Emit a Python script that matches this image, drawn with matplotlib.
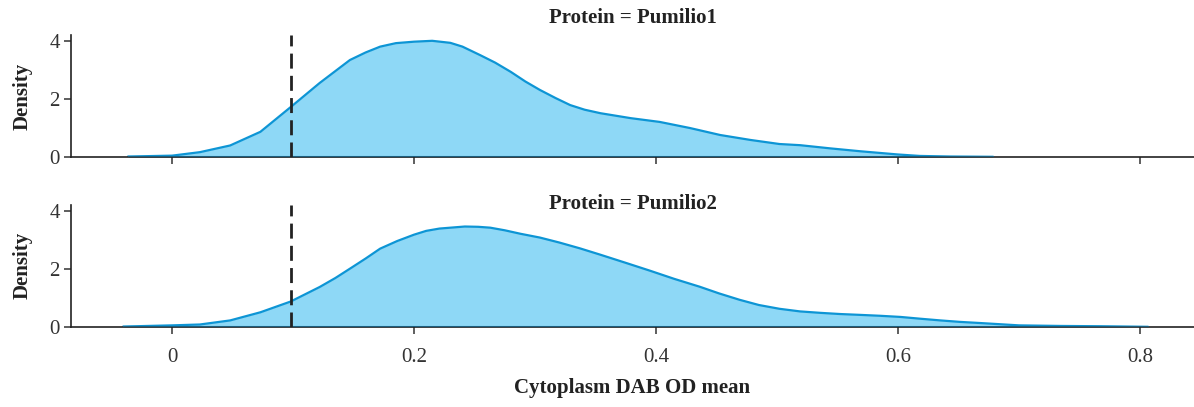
import matplotlib
matplotlib.use("Agg")
import matplotlib.pyplot as plt

plt.rcParams['font.family'] = ['Liberation Serif', 'DejaVu Serif']

# Density curves (x = Cytoplasm DAB OD mean, y = density)
pum1_x = [-0.036, 0.0, 0.023, 0.048, 0.073, 0.098, 0.122, 0.147, 0.16, 0.172,
          0.185, 0.2, 0.215, 0.23, 0.24, 0.255, 0.267, 0.28, 0.292, 0.304,
          0.317, 0.329, 0.341, 0.354, 0.379, 0.403, 0.428, 0.453, 0.478, 0.502,
          0.519, 0.544, 0.569, 0.6, 0.618, 0.643, 0.678]
pum1_y = [0.02, 0.05, 0.17, 0.4, 0.87, 1.72, 2.55, 3.34, 3.6, 3.8,
          3.92, 3.97, 4.0, 3.93, 3.8, 3.5, 3.25, 2.93, 2.6, 2.31,
          2.03, 1.79, 1.63, 1.51, 1.34, 1.21, 1.0, 0.76, 0.59, 0.45,
          0.41, 0.3, 0.2, 0.09, 0.04, 0.02, 0.01]

pum2_x = [-0.04, 0.0, 0.023, 0.048, 0.073, 0.098, 0.122, 0.135, 0.147, 0.16,
          0.172, 0.186, 0.2, 0.21, 0.221, 0.242, 0.253, 0.263, 0.275, 0.288,
          0.304, 0.32, 0.337, 0.354, 0.375, 0.395, 0.415, 0.436, 0.452, 0.469,
          0.485, 0.502, 0.519, 0.536, 0.552, 0.569, 0.585, 0.602, 0.618, 0.635,
          0.651, 0.668, 0.684, 0.7, 0.734, 0.767, 0.806]
pum2_y = [0.01, 0.05, 0.08, 0.22, 0.5, 0.87, 1.37, 1.68, 2.0, 2.35,
          2.69, 2.95, 3.17, 3.3, 3.38, 3.45, 3.44, 3.41, 3.32, 3.2,
          3.07, 2.9, 2.7, 2.48, 2.2, 1.93, 1.65, 1.38, 1.15, 0.93,
          0.75, 0.62, 0.53, 0.48, 0.44, 0.41, 0.38, 0.34, 0.28, 0.22,
          0.17, 0.13, 0.09, 0.05, 0.03, 0.02, 0.0]

proteins = ['Pumilio1', 'Pumilio2']
threshold = 0.098
x_ticks = [0, 0.2, 0.4, 0.6, 0.8]
x_tick_labels = ['0', '0.2', '0.4', '0.6', '0.8']
y_ticks = [0, 2, 4]

fill_color = '#8ed8f6'
line_color = '#0d95d5'

fig = plt.figure(figsize=(11.94, 4.07), dpi=100)
ax1 = fig.add_axes([0.0595, 0.614, 0.9405, 0.300])
ax2 = fig.add_axes([0.0595, 0.197, 0.9405, 0.300], sharex=ax1)

# facet titles sit at slightly different heights in the reference
title_y = [1.098, 0.962]

for ax, xs, ys, name, ty in [(ax1, pum1_x, pum1_y, proteins[0], title_y[0]),
                             (ax2, pum2_x, pum2_y, proteins[1], title_y[1])]:
    ax.fill_between(xs, ys, 0, color=fill_color, linewidth=0)
    ax.plot(xs, ys, color=line_color, linewidth=1.6, solid_joinstyle='round')
    ax.plot([xs[0], xs[-1]], [0, 0], color='#1b5e7e', linewidth=2.2, zorder=3)
    ax.axvline(threshold, color='#222222', linestyle=(0, (5.4, 2.6)), linewidth=2, zorder=4)
    ax.set_xlim(-0.0835, 0.8446)
    ax.set_ylim(0, 4.2)
    ax.set_yticks(y_ticks)
    ax.set_xticks(x_ticks)
    ax.set_xticklabels(x_tick_labels)
    ax.text(0.5, ty, f'Protein = {name}', transform=ax.transAxes, ha='center',
            va='baseline', fontsize=15, fontweight='bold', color='#222222')
    ax.set_ylabel('Density', fontsize=15, fontweight='bold', color='#222222', labelpad=12)
    for s in ['top', 'right']:
        ax.spines[s].set_visible(False)
    for s in ['left', 'bottom']:
        ax.spines[s].set_color('#222222')
        ax.spines[s].set_linewidth(1.2)
    ax.tick_params(axis='both', labelsize=15, colors='#333333', length=5, width=1.1)
    ax.tick_params(axis='x', pad=10)
    ax.tick_params(axis='y', pad=3)

ax1.tick_params(axis='x', labelbottom=False)
ax2.set_xlabel('Cytoplasm DAB OD mean', fontsize=15, fontweight='bold', color='#222222', labelpad=8)

fig.savefig('out.png', dpi=100)
